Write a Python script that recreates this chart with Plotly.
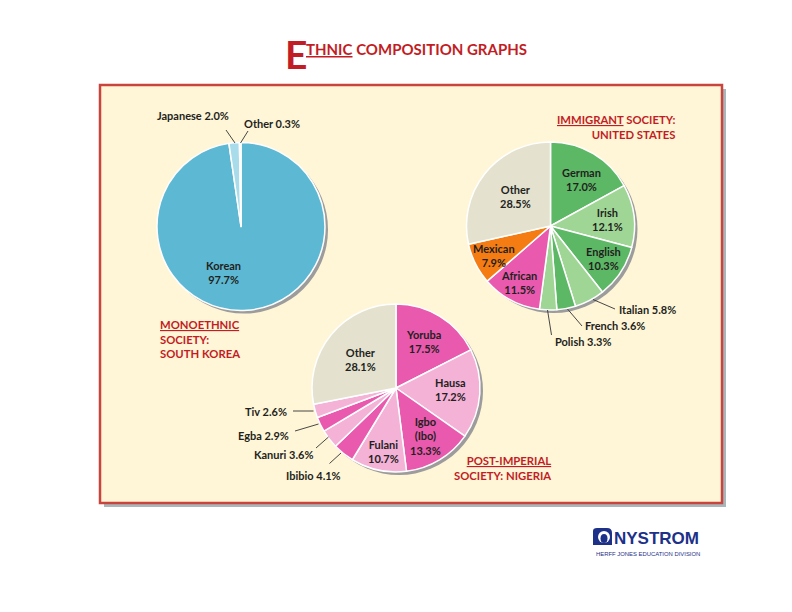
import plotly.graph_objects as go

# page body has an 8px margin: figure sized to fit inside the window
OFF = 8
W, H = 776, 596

# ---------------- data ----------------
korea_names = ["Korean", "Japanese", "Other"]
korea_values = [97.7, 2.0, 0.3]
korea_colors = ["#5db9d3", "#a9dcea", "#d3eef6"]

us_names = ["German", "Irish", "English", "Italian", "French", "Polish", "African", "Mexican", "Other"]
us_values = [17.0, 12.1, 10.3, 5.8, 3.6, 3.3, 11.5, 7.9, 28.5]
us_colors = ["#5cb865", "#9fd696", "#5cb865", "#9fd696", "#5cb865", "#9fd696", "#e95aae", "#f47c12", "#e4e2cf"]

ng_names = ["Yoruba", "Hausa", "Igbo (Ibo)", "Fulani", "Ibibio", "Kanuri", "Egba", "Tiv", "Other"]
ng_values = [17.5, 17.2, 13.3, 10.7, 4.1, 3.6, 2.9, 2.6, 28.1]
ng_colors = ["#e95aae", "#f4b2d7", "#e95aae", "#f4b2d7", "#e95aae", "#f4b2d7", "#e95aae", "#f4b2d7", "#e4e2cf"]

# ---------------- layout helpers (window pixels -> paper) ----------------
def px(x):
    return (x - OFF) / W

def py(y):
    return 1 - (y - OFF) / H

R = 84
pies = [
    (korea_names, korea_values, korea_colors, (241, 226.5),
     {"Korean": ("in", 223, 272),
      "Japanese": ("out", 193, 115, (226, 130, 235, 143)),
      "Other": ("out", 272, 123, (248, 131, 240.5, 143))}),
    (us_names, us_values, us_colors, (550.5, 226),
     {"German": ("in", 581, 179), "Irish": ("in", 607, 219), "English": ("in", 603, 258),
      "Italian": ("out", 647.5, 309, (593, 299.5, 615, 309)),
      "French": ("out", 615, 325, (567.5, 309, 582, 326)),
      "Polish": ("out", 583, 341, (547.5, 310, 551.5, 335)),
      "African": ("in", 519, 282), "Mexican": ("in", 494, 255), "Other": ("in", 515, 196)}),
    (ng_names, ng_values, ng_colors, (396, 388),
     {"Yoruba": ("in", 423, 341), "Hausa": ("in", 450, 389), "Igbo (Ibo)": ("in", 425, 436),
      "Fulani": ("in", 383, 451),
      "Ibibio": ("out", 313, 475.5, (329.5, 463.5, 341, 453)),
      "Kanuri": ("out", 283, 454, (316, 448, 328.5, 437)),
      "Egba": ("out", 263, 435, (295, 431, 318.5, 424)),
      "Tiv": ("out", 266, 411, (293, 411, 313.5, 411)),
      "Other": ("in", 360, 359)}),
]

LABEL_FONT = dict(family="Lato, 'Open Sans', sans-serif", size=11, color="#231f20", weight="bold")
RED = "#c21d25"

fig = go.Figure()
annotations = []
shapes = []

# frame: shadow + cream panel with red border
shapes.append(dict(type="rect", xref="paper", yref="paper", x0=px(104), x1=px(726), y0=py(507), y1=py(89),
                   fillcolor="#a9b7bb", line=dict(width=0), layer="below"))
shapes.append(dict(type="rect", xref="paper", yref="paper", x0=px(100), x1=px(722), y0=py(503), y1=py(85),
                   fillcolor="#fff5d7", line=dict(color="#c9443c", width=2.5), layer="below"))

for names, values, colors, (cx, cy), labels in pies:
    # drop shadow
    sx, sy = cx + 3, cy + 3
    fig.add_trace(go.Pie(values=[1], labels=["shadow"], marker=dict(colors=["#9c9c9c"], line=dict(width=0)),
                         domain=dict(x=[px(sx - R), px(sx + R)], y=[py(sy + R), py(sy - R)]),
                         textinfo="none", hoverinfo="skip", showlegend=False, sort=False))
    fig.add_trace(go.Pie(values=values, labels=names,
                         marker=dict(colors=colors, line=dict(color="white", width=1.5)),
                         domain=dict(x=[px(cx - R), px(cx + R)], y=[py(cy + R), py(cy - R)]),
                         textinfo="none", sort=False, direction="clockwise", rotation=0,
                         showlegend=False, hovertemplate="%{label}: %{value}%<extra></extra>"))
    for name, val in zip(names, values):
        spec = labels[name]
        if spec[0] == "in":
            text = name.replace(" ", "<br>") + "<br>" + f"{val:.1f}%"
        else:
            text = f"{name} {val:.1f}%"
            x0, y0, x1, y1 = spec[3]
            shapes.append(dict(type="line", xref="paper", yref="paper", x0=px(x0), y0=py(y0),
                               x1=px(x1), y1=py(y1), line=dict(color="#333333", width=0.9)))
        annotations.append(dict(text=text, x=px(spec[1]), y=py(spec[2]), xref="paper", yref="paper",
                                showarrow=False, font=LABEL_FONT, xanchor="center", yanchor="middle",
                                align="center"))

# red society captions
CAP_FONT = dict(family="Lato, 'Open Sans', sans-serif", size=11.3, color=RED, weight="bold")
captions = [
    ("<u>MONOETHNIC</u><br>SOCIETY:<br>SOUTH KOREA", 158, 339, "left"),
    ("<u>IMMIGRANT</u> SOCIETY:<br>UNITED STATES", 678, 126.5, "right"),
    ("<u>POST-IMPERIAL</u><br>SOCIETY: NIGERIA", 553, 468, "right"),
]
for text, x, y, anc in captions:
    annotations.append(dict(text=text, x=px(x), y=py(y), xref="paper", yref="paper", showarrow=False,
                            xanchor=anc, yanchor="middle", align=anc, font=CAP_FONT))

# title
annotations.append(dict(text="E", x=px(283), y=py(54), xref="paper", yref="paper", showarrow=False,
                        xanchor="left", yanchor="middle",
                        font=dict(family="Lato, sans-serif", size=39, color=RED, weight="bold")))
annotations.append(dict(text="<u>THNIC</u> COMPOSITION GRAPHS", x=px(304), y=py(49), xref="paper", yref="paper",
                        showarrow=False, xanchor="left", yanchor="middle",
                        font=dict(family="Lato, sans-serif", size=15, color=RED, weight="bold")))

# publisher logo
BLUE = "#1d3189"
shapes.append(dict(type="path", xref="paper", yref="paper",
                   path=f"M {px(593)} {py(545)} L {px(593)} {py(531)} Q {px(593)} {py(528)} {px(597)} {py(528)} "
                        f"L {px(607)} {py(528)} Q {px(612)} {py(528)} {px(612)} {py(533)} L {px(612)} {py(545)} Z",
                   fillcolor=BLUE, line=dict(width=0)))
shapes.append(dict(type="circle", xref="paper", yref="paper", x0=px(598), x1=px(610), y0=py(543), y1=py(531),
                   fillcolor="white", line=dict(width=0)))
shapes.append(dict(type="circle", xref="paper", yref="paper", x0=px(600.5), x1=px(607.5), y0=py(543), y1=py(534),
                   fillcolor=BLUE, line=dict(width=0)))
annotations.append(dict(text="NYSTROM", x=px(612), y=py(538), xref="paper", yref="paper", showarrow=False,
                        xanchor="left", yanchor="middle",
                        font=dict(family="Liberation Sans, Arial, sans-serif", size=17, color=BLUE, weight="bold")))
annotations.append(dict(text="HERFF JONES EDUCATION DIVISION", x=px(594), y=py(554), xref="paper", yref="paper",
                        showarrow=False, xanchor="left", yanchor="middle",
                        font=dict(family="Liberation Sans, Arial, sans-serif", size=5.9, color=BLUE)))

fig.update_layout(width=W, height=H, margin=dict(l=0, r=0, t=0, b=0), paper_bgcolor="white",
                  plot_bgcolor="white", showlegend=False, annotations=annotations, shapes=shapes)

fig.write_html("out.html")
